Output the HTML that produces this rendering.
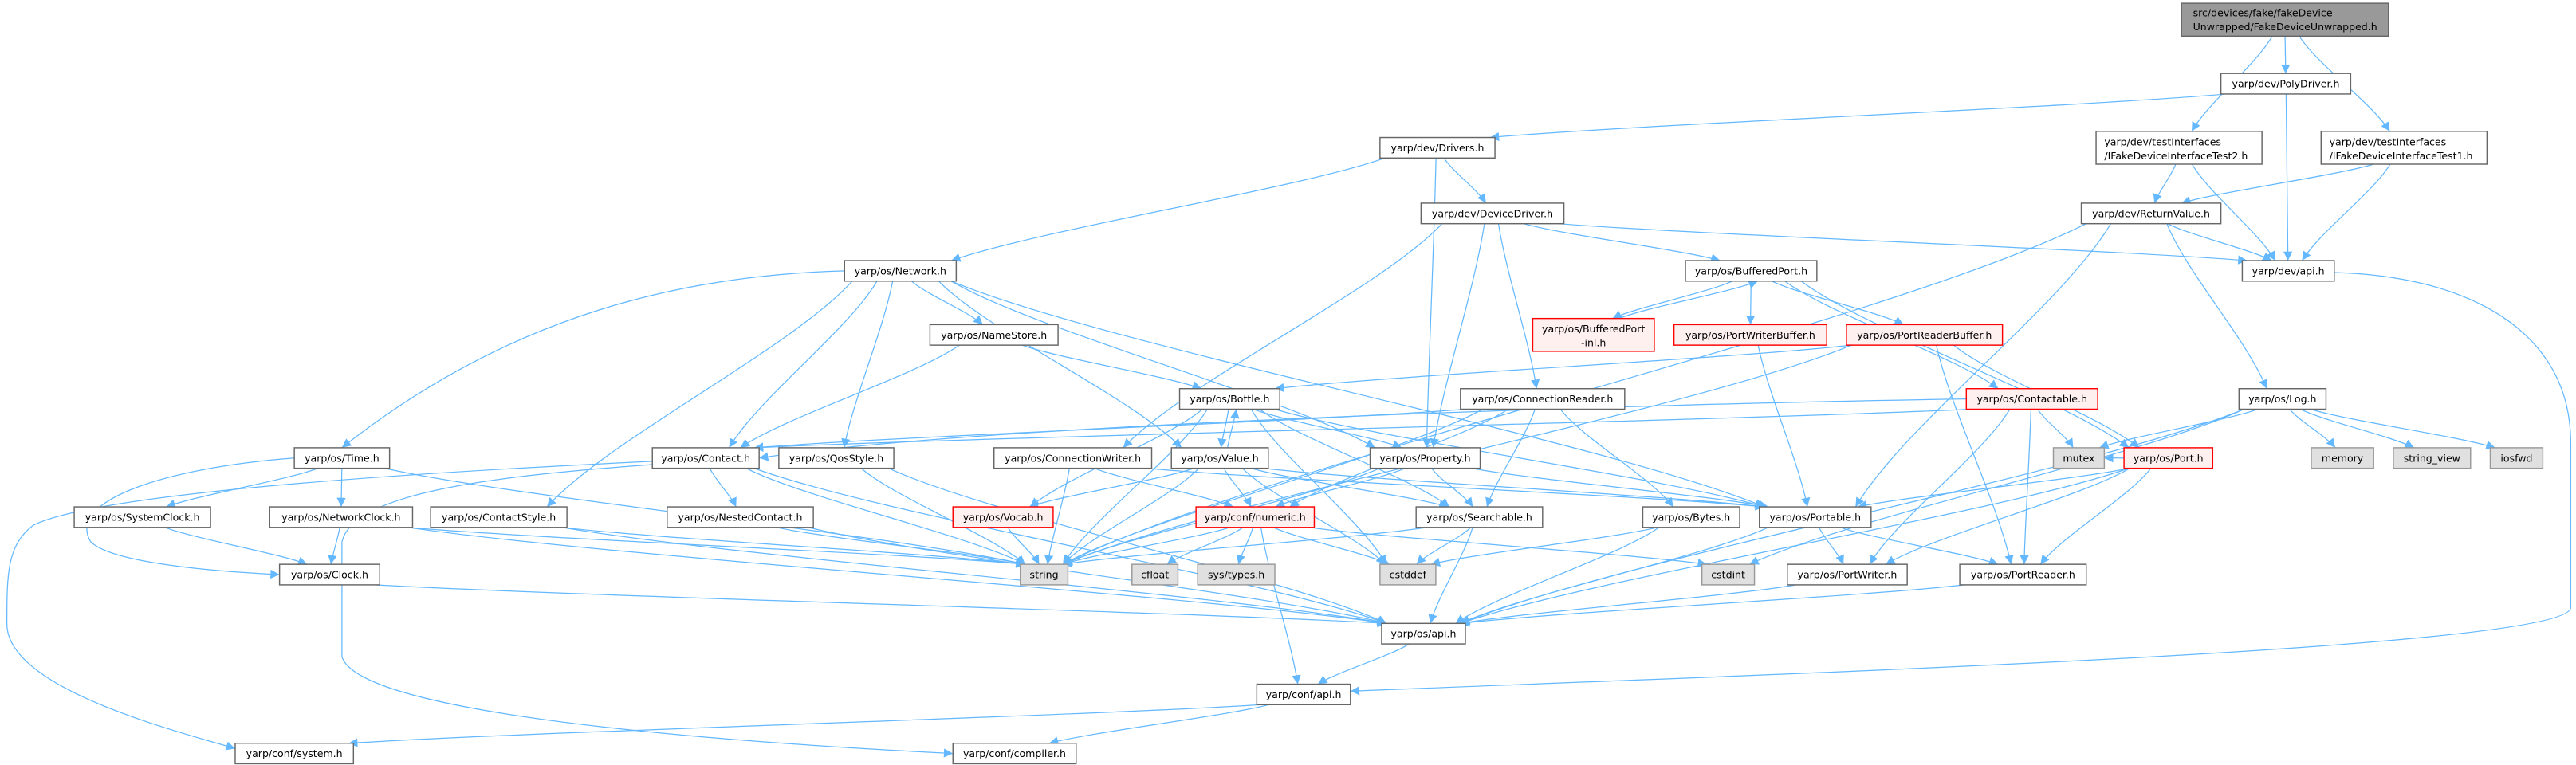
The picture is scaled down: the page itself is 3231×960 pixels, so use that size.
<!DOCTYPE html>
<html><head><meta charset="utf-8"><style>
html,body{margin:0;padding:0;background:#fff;}
svg{display:block;}
text{font-family:"DejaVu Sans","Liberation Sans",sans-serif;font-size:6.1px;fill:#000;}
</style></head><body>
<svg id="g" width="3231" height="960" viewBox="0 0 1568 466" xmlns="http://www.w3.org/2000/svg">
<defs><marker id="a" viewBox="0 0 10 10" refX="10" refY="5" markerWidth="5.5" markerHeight="5.5" markerUnits="userSpaceOnUse" orient="auto"><path d="M0,0 L10,5 L0,10 z" fill="#63b8ff"/></marker></defs>
<g id="edges" fill="none" stroke="#63b8ff" stroke-width="0.6"></g>
<g id="nodes" stroke-width="0.7">
<rect x="1328" y="2" width="126" height="20" fill="#999" stroke="#666"/><text x="1335" y="10">src/devices/fake/fakeDevice</text><text x="1335" y="18.5">Unwrapped/FakeDeviceUnwrapped.h</text>
<rect x="1352" y="44.75" width="79" height="12.5" fill="#fff" stroke="#666"/><text x="1391.5" y="53.2" text-anchor="middle">yarp/dev/PolyDriver.h</text>
<rect x="1276" y="80" width="101" height="20" fill="#fff" stroke="#666"/><text x="1281" y="88.5">yarp/dev/testInterfaces</text><text x="1281" y="97">/IFakeDeviceInterfaceTest2.h</text>
<rect x="1413" y="80" width="101" height="20" fill="#fff" stroke="#666"/><text x="1418" y="88.5">yarp/dev/testInterfaces</text><text x="1418" y="97">/IFakeDeviceInterfaceTest1.h</text>
<rect x="840" y="83.75" width="70" height="12.5" fill="#fff" stroke="#666"/><text x="875" y="92.2" text-anchor="middle">yarp/dev/Drivers.h</text>
<rect x="865" y="123.75" width="87" height="12.5" fill="#fff" stroke="#666"/><text x="908.5" y="132.2" text-anchor="middle">yarp/dev/DeviceDriver.h</text>
<rect x="1267" y="123.75" width="85" height="12.5" fill="#fff" stroke="#666"/><text x="1309.5" y="132.2" text-anchor="middle">yarp/dev/ReturnValue.h</text>
<rect x="1365" y="158.75" width="56" height="12.5" fill="#fff" stroke="#666"/><text x="1393" y="167.2" text-anchor="middle">yarp/dev/api.h</text>
<rect x="514" y="158.75" width="68" height="12.5" fill="#fff" stroke="#666"/><text x="548" y="167.2" text-anchor="middle">yarp/os/Network.h</text>
<rect x="1026" y="158.75" width="80" height="12.5" fill="#fff" stroke="#666"/><text x="1066" y="167.2" text-anchor="middle">yarp/os/BufferedPort.h</text>
<rect x="566" y="197.75" width="78" height="12.5" fill="#fff" stroke="#666"/><text x="605" y="206.2" text-anchor="middle">yarp/os/NameStore.h</text>
<rect x="933" y="194" width="74" height="20" fill="#fff0f0" stroke="#f00"/><text x="970" y="202.5" text-anchor="middle">yarp/os/BufferedPort</text><text x="970" y="211" text-anchor="middle">-inl.h</text>
<rect x="1019" y="197.75" width="93" height="12.5" fill="#fff0f0" stroke="#f00"/><text x="1065.5" y="206.2" text-anchor="middle">yarp/os/PortWriterBuffer.h</text>
<rect x="1124" y="197.75" width="95" height="12.5" fill="#fff0f0" stroke="#f00"/><text x="1171.5" y="206.2" text-anchor="middle">yarp/os/PortReaderBuffer.h</text>
<rect x="718" y="236.75" width="61" height="12.5" fill="#fff" stroke="#666"/><text x="748.5" y="245.2" text-anchor="middle">yarp/os/Bottle.h</text>
<rect x="889" y="236.75" width="100" height="12.5" fill="#fff" stroke="#666"/><text x="939" y="245.2" text-anchor="middle">yarp/os/ConnectionReader.h</text>
<rect x="1197" y="236.75" width="80" height="12.5" fill="#fff0f0" stroke="#f00"/><text x="1237" y="245.2" text-anchor="middle">yarp/os/Contactable.h</text>
<rect x="1363" y="236.75" width="53" height="12.5" fill="#fff" stroke="#666"/><text x="1389.5" y="245.2" text-anchor="middle">yarp/os/Log.h</text>
<rect x="179" y="272.75" width="58" height="12.5" fill="#fff" stroke="#666"/><text x="208" y="281.2" text-anchor="middle">yarp/os/Time.h</text>
<rect x="397" y="272.75" width="65" height="12.5" fill="#fff" stroke="#666"/><text x="429.5" y="281.2" text-anchor="middle">yarp/os/Contact.h</text>
<rect x="474" y="272.75" width="70" height="12.5" fill="#fff" stroke="#666"/><text x="509" y="281.2" text-anchor="middle">yarp/os/QosStyle.h</text>
<rect x="605" y="272.75" width="96" height="12.5" fill="#fff" stroke="#666"/><text x="653" y="281.2" text-anchor="middle">yarp/os/ConnectionWriter.h</text>
<rect x="713" y="272.75" width="59" height="12.5" fill="#fff" stroke="#666"/><text x="742.5" y="281.2" text-anchor="middle">yarp/os/Value.h</text>
<rect x="834" y="272.75" width="67" height="12.5" fill="#fff" stroke="#666"/><text x="867.5" y="281.2" text-anchor="middle">yarp/os/Property.h</text>
<rect x="1250" y="272.75" width="31" height="12.5" fill="#e0e0e0" stroke="#999"/><text x="1265.5" y="281.2" text-anchor="middle">mutex</text>
<rect x="1293" y="272.75" width="54" height="12.5" fill="#fff0f0" stroke="#f00"/><text x="1320" y="281.2" text-anchor="middle">yarp/os/Port.h</text>
<rect x="1407" y="272.75" width="38" height="12.5" fill="#e0e0e0" stroke="#999"/><text x="1426" y="281.2" text-anchor="middle">memory</text>
<rect x="1457" y="272.75" width="47" height="12.5" fill="#e0e0e0" stroke="#999"/><text x="1480.5" y="281.2" text-anchor="middle">string_view</text>
<rect x="1516" y="272.75" width="32" height="12.5" fill="#e0e0e0" stroke="#999"/><text x="1532" y="281.2" text-anchor="middle">iosfwd</text>
<rect x="45" y="308.75" width="83" height="12.5" fill="#fff" stroke="#666"/><text x="86.5" y="317.2" text-anchor="middle">yarp/os/SystemClock.h</text>
<rect x="164" y="308.75" width="87" height="12.5" fill="#fff" stroke="#666"/><text x="207.5" y="317.2" text-anchor="middle">yarp/os/NetworkClock.h</text>
<rect x="262" y="308.75" width="83" height="12.5" fill="#fff" stroke="#666"/><text x="303.5" y="317.2" text-anchor="middle">yarp/os/ContactStyle.h</text>
<rect x="406" y="308.75" width="89" height="12.5" fill="#fff" stroke="#666"/><text x="450.5" y="317.2" text-anchor="middle">yarp/os/NestedContact.h</text>
<rect x="580" y="308.75" width="61" height="12.5" fill="#fff0f0" stroke="#f00"/><text x="610.5" y="317.2" text-anchor="middle">yarp/os/Vocab.h</text>
<rect x="728" y="308.75" width="72" height="12.5" fill="#fff0f0" stroke="#f00"/><text x="764" y="317.2" text-anchor="middle">yarp/conf/numeric.h</text>
<rect x="862" y="308.75" width="77" height="12.5" fill="#fff" stroke="#666"/><text x="900.5" y="317.2" text-anchor="middle">yarp/os/Searchable.h</text>
<rect x="1000" y="308.75" width="59" height="12.5" fill="#fff" stroke="#666"/><text x="1029.5" y="317.2" text-anchor="middle">yarp/os/Bytes.h</text>
<rect x="1071" y="308.75" width="68" height="12.5" fill="#fff" stroke="#666"/><text x="1105" y="317.2" text-anchor="middle">yarp/os/Portable.h</text>
<rect x="170" y="343.75" width="61" height="12.5" fill="#fff" stroke="#666"/><text x="200.5" y="352.2" text-anchor="middle">yarp/os/Clock.h</text>
<rect x="621" y="343.75" width="29" height="12.5" fill="#e0e0e0" stroke="#999"/><text x="635.5" y="352.2" text-anchor="middle">string</text>
<rect x="689" y="343.75" width="28" height="12.5" fill="#e0e0e0" stroke="#999"/><text x="703" y="352.2" text-anchor="middle">cfloat</text>
<rect x="729" y="343.75" width="47" height="12.5" fill="#e0e0e0" stroke="#999"/><text x="752.5" y="352.2" text-anchor="middle">sys/types.h</text>
<rect x="840" y="343.75" width="34" height="12.5" fill="#e0e0e0" stroke="#999"/><text x="857" y="352.2" text-anchor="middle">cstddef</text>
<rect x="1036" y="343.75" width="32" height="12.5" fill="#e0e0e0" stroke="#999"/><text x="1052" y="352.2" text-anchor="middle">cstdint</text>
<rect x="1088" y="343.75" width="73" height="12.5" fill="#fff" stroke="#666"/><text x="1124.5" y="352.2" text-anchor="middle">yarp/os/PortWriter.h</text>
<rect x="1193" y="343.75" width="77" height="12.5" fill="#fff" stroke="#666"/><text x="1231.5" y="352.2" text-anchor="middle">yarp/os/PortReader.h</text>
<rect x="841" y="379.75" width="51" height="12.5" fill="#fff" stroke="#666"/><text x="866.5" y="388.2" text-anchor="middle">yarp/os/api.h</text>
<rect x="765" y="416.75" width="57" height="12.5" fill="#fff" stroke="#666"/><text x="793.5" y="425.2" text-anchor="middle">yarp/conf/api.h</text>
<rect x="143" y="452.75" width="72" height="12.5" fill="#fff" stroke="#666"/><text x="179" y="461.2" text-anchor="middle">yarp/conf/system.h</text>
<rect x="580" y="452.75" width="75" height="12.5" fill="#fff" stroke="#666"/><text x="617.5" y="461.2" text-anchor="middle">yarp/conf/compiler.h</text>
</g>
</svg>
<script>
var N={root:[1328,1454,12,20],poly:[1352,1431,51],test2:[1276,1377,90,20],test1:[1413,1514,90,20],drivers:[840,910,90],devdrv:[865,952,130],retval:[1267,1352,130],devapi:[1365,1421,165],network:[514,582,165],bport:[1026,1106,165],namestore:[566,644,204],bpinl:[933,1007,204,20],pwb:[1019,1112,204],prb:[1124,1219,204],bottle:[718,779,243],connreader:[889,989,243],contactable:[1197,1277,243],log:[1363,1416,243],time:[179,237,279],contact:[397,462,279],qos:[474,544,279],connwriter:[605,701,279],value:[713,772,279],property:[834,901,279],mutex:[1250,1281,279],port:[1293,1347,279],memory:[1407,1445,279],sview:[1457,1504,279],iosfwd:[1516,1548,279],sysclock:[45,128,315],netclock:[164,251,315],contactstyle:[262,345,315],nested:[406,495,315],vocab:[580,641,315],numeric:[728,800,315],searchable:[862,939,315],bytes:[1000,1059,315],portable:[1071,1139,315],clock:[170,231,350],string:[621,650,350],cfloat:[689,717,350],systypes:[729,776,350],cstddef:[840,874,350],cstdint:[1036,1068,350],pwriter:[1088,1161,350],preader:[1193,1270,350],osapi:[841,892,386],confapi:[765,822,423],system:[143,215,459],compiler:[580,655,459]};
var E="root poly,root test2,root test1,poly drivers,poly devapi,test2 retval,test2 devapi,test1 retval,test1 devapi,drivers network,drivers devdrv,drivers property,devdrv bport,devdrv connwriter,devdrv property,devdrv connreader,devdrv devapi,retval devapi,retval log,retval portable,retval string,network contact,network contactstyle,network qos,network namestore,network value,network property,network portable,namestore contact,namestore bottle,bport bpinl,bpinl bport,bport pwb,bport prb,bport contactable,bport port,pwb portable,prb bottle,prb preader,prb port,prb string,bottle value,value bottle,bottle property,bottle searchable,bottle portable,bottle string,bottle vocab,bottle cstddef,connreader contact,connreader searchable,connreader bytes,connreader numeric,connreader string,contactable contact,contactable mutex,contactable pwriter,contactable preader,log mutex,log memory,log sview,log iosfwd,log osapi,log cstdint,time sysclock,time netclock,time string,contact nested,contact string,contact osapi,qos string,qos osapi,connwriter string,connwriter numeric,connwriter portable,value vocab,value numeric,value string,value searchable,value portable,value cstddef,property searchable,property portable,property numeric,property string,port portable,port pwriter,port preader,port osapi,port mutex,sysclock clock,netclock clock,netclock string,netclock osapi,contactstyle string,contactstyle osapi,nested string,nested osapi,vocab string,numeric string,numeric cfloat,numeric systypes,numeric cstddef,numeric cstdint,numeric confapi,searchable cstddef,searchable osapi,searchable string,bytes cstddef,bytes osapi,portable osapi,portable pwriter,portable preader,clock osapi,pwriter osapi,preader osapi,osapi confapi,confapi system,confapi compiler".split(",");
var g=document.getElementById("edges"),s="";
function cl(v,a,b){return Math.max(a,Math.min(b,v));}
E.forEach(function(e){var p=e.split(" "),A=N[p[0]],B=N[p[1]];var ha=(A[3]||12.5)/2,hb=(B[3]||12.5)/2;
var ac=(A[0]+A[1])/2,bc=(B[0]+B[1])/2,sx,sy,tx,ty,dx,dy;
if(B[2]>A[2]+5){sx=cl(ac+(bc-ac)*0.12,A[0]+3,A[1]-3);sy=A[2]+ha;tx=cl(bc+(ac-bc)*0.12,B[0]+3,B[1]-3);ty=B[2]-hb;}
else if(B[2]<A[2]-5){sx=cl(ac+(bc-ac)*0.12+4,A[0]+3,A[1]-3);sy=A[2]-ha;tx=cl(bc+4,B[0]+3,B[1]-3);ty=B[2]+hb;}
else{if(bc<ac){sx=A[0];tx=B[1];}else{sx=A[1];tx=B[0];}sy=A[2];ty=B[2];s+='<path d="M'+sx+','+sy+' L'+tx+','+ty+'" marker-end="url(#a)"/>';return;}
dx=tx-sx;dy=ty-sy;
var c1x=sx+dx*0.2,c1y=sy+dy*0.3,c2x=tx-dx*0.2,c2y=ty-dy*0.3;
s+='<path d="M'+sx+','+sy+' C'+c1x+','+c1y+' '+c2x+','+c2y+' '+tx+','+ty+'" marker-end="url(#a)"/>';
});
s+='<path d="M1421,166 C1500,168 1565,200 1565,270 L1565,370 C1565,395 1100,410 822,421" marker-end="url(#a)"/>';
s+='<path d="M514,165 C400,168 300,200 208,272.7" marker-end="url(#a)"/>';
s+='<path d="M397,281 C250,288 60,300 20,320 C4,332 4,350 4,380 C4,420 110,446 143,456" marker-end="url(#a)"/>';
s+='<path d="M397,283 C300,290 215,300 208,330 L208,400 C220,440 500,455 580,459" marker-end="url(#a)"/>';
s+='<path d="M179,279 C100,285 40,305 55,330 C70,345 150,349 170,350" marker-end="url(#a)"/>';
s+='<path d="M1197,243 C1000,246 600,258 462,279" marker-end="url(#a)"/>';
g.innerHTML=s;
</script>
</body></html>
